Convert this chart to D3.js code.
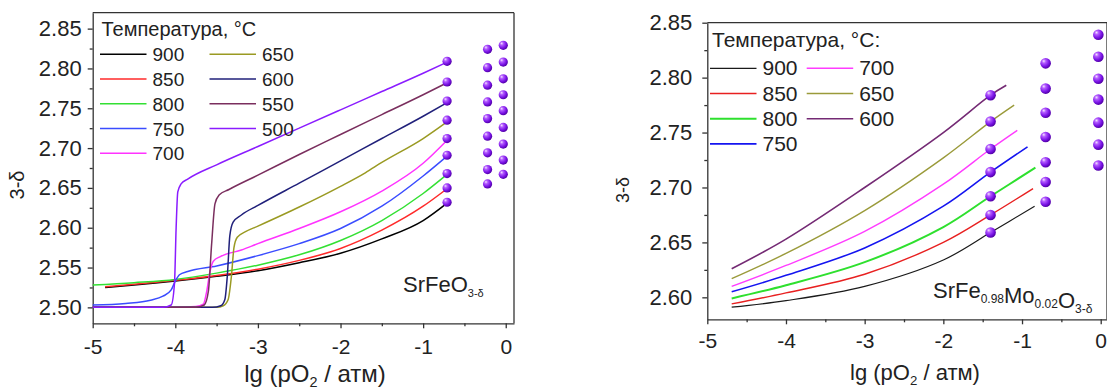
<!DOCTYPE html>
<html>
<head>
<meta charset="utf-8">
<script src="https://cdn.jsdelivr.net/npm/d3@7"></script>
<style>
  body { margin: 0; background: #fff; }
  svg { display: block; font-family: Arial, "Liberation Sans", sans-serif; }
  .axis path, .axis line { stroke: #333; stroke-width: 1.3; }
  .axis text { fill: #222; }
  .frame { stroke: #333; stroke-width: 1.3; }
</style>
</head>
<body>
<svg id="chart" width="1107" height="389"></svg>
<script>
// ---- left panel: SrFeO3-d ----
const sfoTemps = [900, 850, 800, 750, 700, 650, 600, 550, 500];
const sfoColors = ['#000000', '#ff2a2a', '#33e033', '#3a4cff', '#ff33ff', '#9a9a22', '#20207a', '#7a2e5e', '#8a1cff'];

const sfo900 = [[-4.85, 2.525], [-4.5, 2.528], [-4, 2.533], [-3.5, 2.539], [-3, 2.546], [-2.5, 2.556], [-2, 2.568], [-1.5, 2.586], [-1, 2.609], [-0.71, 2.631]];
const sfo850 = [[-4.85, 2.526], [-4.5, 2.529], [-4, 2.534], [-3.5, 2.540], [-3, 2.548], [-2.5, 2.559], [-2, 2.574], [-1.5, 2.597], [-1, 2.627], [-0.71, 2.649]];
const sfo800 = [[-5, 2.528], [-4.5, 2.531], [-4, 2.535], [-3.5, 2.543], [-3, 2.553], [-2.5, 2.566], [-2, 2.584], [-1.5, 2.609], [-1, 2.643], [-0.71, 2.667]];
const sfo750 = [[-5, 2.503], [-4.6, 2.505], [-4.3, 2.509], [-4.15, 2.514], [-4.05, 2.522], [-4.0, 2.533], [-3.95, 2.541], [-3.85, 2.545], [-3.5, 2.552], [-3, 2.565], [-2.5, 2.580], [-2, 2.599], [-1.5, 2.627], [-1, 2.665], [-0.71, 2.690]];
const sfo700 = [[-5, 2.500], [-4, 2.500], [-3.75, 2.501], [-3.66, 2.504], [-3.62, 2.52], [-3.58, 2.545], [-3.54, 2.558], [-3.45, 2.564], [-3.2, 2.572], [-3, 2.580], [-2.5, 2.599], [-2, 2.620], [-1.5, 2.646], [-1, 2.681], [-0.71, 2.710]];
const sfo650 = [[-5, 2.500], [-3.5, 2.500], [-3.42, 2.502], [-3.36, 2.51], [-3.32, 2.54], [-3.29, 2.575], [-3.25, 2.588], [-3.15, 2.595], [-3, 2.602], [-2.5, 2.626], [-2, 2.652], [-1.7, 2.669], [-1.5, 2.682], [-1, 2.712], [-0.71, 2.733]];
const sfo600 = [[-5, 2.500], [-3.55, 2.500], [-3.45, 2.502], [-3.4, 2.51], [-3.37, 2.54], [-3.34, 2.59], [-3.3, 2.607], [-3.2, 2.616], [-3, 2.628], [-2.5, 2.656], [-2, 2.684], [-1.5, 2.712], [-1, 2.740], [-0.71, 2.757]];
const sfo550 = [[-5, 2.500], [-3.75, 2.500], [-3.65, 2.503], [-3.6, 2.52], [-3.56, 2.58], [-3.52, 2.630], [-3.47, 2.641], [-3.35, 2.648], [-3, 2.666], [-2.5, 2.692], [-2, 2.717], [-1.5, 2.742], [-1, 2.767], [-0.71, 2.782]];
const sfo500 = [[-5, 2.500], [-4.15, 2.500], [-4.05, 2.503], [-4.01, 2.53], [-3.99, 2.60], [-3.97, 2.645], [-3.93, 2.655], [-3.85, 2.661], [-3.5, 2.679], [-3, 2.702], [-2.5, 2.725], [-2, 2.748], [-1.5, 2.771], [-1, 2.794], [-0.71, 2.808]];

// sphere markers (columns of points)
const sfoMarkX = [-0.71, -0.22, -0.03];
const sfoMark1 = [2.809, 2.783, 2.759, 2.735, 2.712, 2.691, 2.668, 2.650, 2.632];
const sfoMark2 = [2.824, 2.801, 2.779, 2.758, 2.737, 2.715, 2.694, 2.673, 2.655];
const sfoMark3 = [2.829, 2.808, 2.787, 2.767, 2.747, 2.726, 2.705, 2.685, 2.667];

const sfoXTicks = [-5, -4, -3, -2, -1, 0];
const sfoYTicks = [2.50, 2.55, 2.60, 2.65, 2.70, 2.75, 2.80, 2.85];

// ---- right panel: SrFe0.98Mo0.02O3-d ----
const sfmTemps = [900, 850, 800, 750, 700, 650, 600];
const sfmColors = ['#1a1a1a', '#e82020', '#2ee02e', '#1414f0', '#ff3cff', '#9a9a3a', '#742a74'];

const sfm900 = [[-4.69, 2.591], [-4, 2.597], [-3, 2.610], [-2, 2.634], [-1.4, 2.659], [-0.84, 2.683]];
const sfm850 = [[-4.69, 2.594], [-4, 2.604], [-3, 2.621], [-2, 2.650], [-1.4, 2.675], [-0.86, 2.699]];
const sfm800 = [[-4.69, 2.599], [-4, 2.611], [-3, 2.632], [-2, 2.664], [-1.4, 2.692], [-0.83, 2.718]];
const sfm750 = [[-4.69, 2.605], [-4, 2.620], [-3, 2.645], [-2, 2.683], [-1.4, 2.714], [-0.93, 2.737]];
const sfm700 = [[-4.69, 2.610], [-4, 2.629], [-3, 2.660], [-2, 2.703], [-1.4, 2.735], [-1.06, 2.752]];
const sfm650 = [[-4.69, 2.617], [-4, 2.640], [-3, 2.679], [-2, 2.727], [-1.4, 2.760], [-1.10, 2.775]];
const sfm600 = [[-4.69, 2.626], [-4, 2.653], [-3, 2.700], [-2, 2.750], [-1.4, 2.784], [-1.20, 2.793]];

const sfmMarkX = [-1.4, -0.7, -0.03];
const sfmMark1 = [2.784, 2.760, 2.735, 2.714, 2.692, 2.675, 2.659];
const sfmMark2 = [2.813, 2.790, 2.768, 2.746, 2.723, 2.705, 2.687];
const sfmMark3 = [2.839, 2.819, 2.799, 2.780, 2.759, 2.739, 2.720];

const sfmXTicks = [-5, -4, -3, -2, -1, 0];
const sfmYTicks = [2.60, 2.65, 2.70, 2.75, 2.80, 2.85];

const svg = d3.select('#chart');

// shaded ball for the markers
const grad = svg.append('defs').append('radialGradient')
  .attr('id', 'ball').attr('cx', '38%').attr('cy', '35%').attr('r', '65%')
  .attr('fx', '32%').attr('fy', '28%');
grad.append('stop').attr('offset', '0%').attr('stop-color', '#f4e6ff');
grad.append('stop').attr('offset', '28%').attr('stop-color', '#b45cff');
grad.append('stop').attr('offset', '70%').attr('stop-color', '#7a14e6');
grad.append('stop').attr('offset', '100%').attr('stop-color', '#5200a8');

function drawPanel(p) {
  const x = d3.scaleLinear().domain(p.xDomain).range(p.xRange);
  const y = d3.scaleLinear().domain(p.yDomain).range(p.yRange);
  const g = svg.append('g');

  // frame (top + right)
  g.append('line').attr('class', 'frame')
    .attr('x1', p.xRange[0]).attr('x2', p.xRange[1])
    .attr('y1', p.yRange[1]).attr('y2', p.yRange[1]);
  g.append('line').attr('class', 'frame')
    .attr('x1', p.xRange[1]).attr('x2', p.xRange[1])
    .attr('y1', p.yRange[1]).attr('y2', p.yRange[0]);

  // x axis + minor ticks
  const minorX = d3.range(p.xDomain[0] + 0.5, p.xDomain[1], 1);
  g.append('g').attr('class', 'axis')
    .attr('transform', `translate(0,${p.yRange[0]})`)
    .call(d3.axisBottom(x).tickValues(minorX).tickSize(3).tickSizeOuter(0).tickFormat(''))
    .call(a => a.select('.domain').remove());
  g.append('g').attr('class', 'axis')
    .attr('transform', `translate(0,${p.yRange[0]})`)
    .call(d3.axisBottom(x).tickValues(p.xTicks).tickSize(5).tickSizeOuter(0)
      .tickPadding(p.xPad).tickFormat(d => String(d)))
    .selectAll('text').style('font-size', p.xFont + 'px');

  // y axis + minor ticks
  const minorY = p.yTicks.map(v => v + 0.025).filter(v => v < p.yDomain[1]);
  if (p.yTicks[0] - 0.025 > p.yDomain[0]) minorY.push(p.yTicks[0] - 0.025);
  g.append('g').attr('class', 'axis')
    .attr('transform', `translate(${p.xRange[0]},0)`)
    .call(d3.axisLeft(y).tickValues(minorY).tickSize(3).tickSizeOuter(0).tickFormat(''))
    .call(a => a.select('.domain').remove());
  g.append('g').attr('class', 'axis')
    .attr('transform', `translate(${p.xRange[0]},0)`)
    .call(d3.axisLeft(y).tickValues(p.yTicks).tickSize(5).tickSizeOuter(0)
      .tickPadding(p.yPad).tickFormat(d => d.toFixed(2)))
    .selectAll('text').style('font-size', p.yFont + 'px');

  // axis titles
  const xt = g.append('text').attr('x', p.xTitle[0]).attr('y', p.xTitle[1])
    .attr('text-anchor', 'middle').style('font-size', p.xTitleFont + 'px').attr('fill', '#222');
  xt.append('tspan').text('lg (pO');
  xt.append('tspan').attr('dy', 5).style('font-size', (p.xTitleFont * 0.6) + 'px').text('2');
  xt.append('tspan').attr('dy', -5).text(' / атм)');

  g.append('text')
    .attr('transform', `translate(${p.yTitle[0]},${p.yTitle[1]}) rotate(-90)`)
    .attr('text-anchor', 'middle').style('font-size', p.yTitleFont + 'px').attr('fill', '#222')
    .text('3-δ');

  // curves
  const line = d3.line().x(d => x(d[0])).y(d => y(d[1])).curve(p.curve);
  g.append('g').selectAll('path').data(p.series).join('path')
    .attr('d', d => line(d))
    .attr('fill', 'none')
    .attr('stroke', (d, i) => p.colors[i])
    .attr('stroke-width', (d, i) => p.widths ? p.widths[i] : 1.5);

  // spheres
  const pts = [];
  p.marks.forEach((col, j) => col.forEach(v => pts.push([p.markX[j], v])));
  g.append('g').selectAll('circle').data(pts).join('circle')
    .attr('cx', d => x(d[0])).attr('cy', d => y(d[1]))
    .attr('r', p.markR).attr('fill', 'url(#ball)');

  // legend
  const lg = g.append('g');
  lg.append('text').attr('x', p.legend.x).attr('y', p.legend.titleY)
    .style('font-size', p.legend.titleFont + 'px').attr('fill', '#222')
    .text(p.legend.title);
  p.temps.forEach((t, i) => {
    const col = Math.floor(i / p.legend.rows) < p.legend.colX.length ? Math.floor(i / p.legend.rows) : 0;
    const row = i - col * p.legend.rows;
    const lx = p.legend.colX[col];
    const ly = p.legend.y0 + row * p.legend.rowH;
    lg.append('line').attr('x1', lx).attr('x2', lx + p.legend.lineW)
      .attr('y1', ly).attr('y2', ly)
      .attr('stroke', p.colors[i]).attr('stroke-width', p.widths ? p.widths[i] : 1.5);
    lg.append('text').attr('x', lx + p.legend.lineW + 6).attr('y', ly + 7)
      .style('font-size', p.legend.font + 'px').attr('fill', '#222').text(t);
  });

  // compound label
  const lab = g.append('text').attr('x', p.label.x).attr('y', p.label.y)
    .style('font-size', p.label.font + 'px').attr('fill', '#222');
  p.label.parts.forEach(([txt, sub]) => {
    lab.append('tspan')
      .attr('dy', sub ? 5 : 0)
      .style('font-size', sub ? p.label.subFont + 'px' : null)
      .text(txt);
    if (sub) lab.append('tspan').attr('dy', -5).text('');
  });
}

drawPanel({
  xDomain: [-5, 0.1], xRange: [92.7, 514],
  yDomain: [2.48, 2.87], yRange: [323.3, 12.7],
  xTicks: sfoXTicks, yTicks: sfoYTicks,
  xPad: 11, yPad: 6, xFont: 21, yFont: 22,
  xTitle: [315, 382], xTitleFont: 24,
  yTitle: [24, 185], yTitleFont: 20,
  curve: d3.curveMonotoneX,
  series: [sfo900, sfo850, sfo800, sfo750, sfo700, sfo650, sfo600, sfo550, sfo500],
  colors: sfoColors, temps: sfoTemps,
  markX: sfoMarkX, marks: [sfoMark1, sfoMark2, sfoMark3], markR: 4.6,
  legend: {
    title: 'Температура, °C', x: 101.5, titleY: 36, titleFont: 20,
    colX: [100, 209.5, 313.5], rows: 5, y0: 54.3, rowH: 24.75, lineW: 46.5, font: 19
  },
  label: { x: 403, y: 292, font: 22, subFont: 11, parts: [['SrFeO', false], ['3-δ', true]] }
});

// right legend uses 4 rows in the first column, 3 in the second
drawPanel({
  xDomain: [-5, 0.08], xRange: [707.3, 1107],
  yDomain: [2.58, 2.85], yRange: [319.3, 22.7],
  xTicks: sfmXTicks, yTicks: sfmYTicks,
  xPad: 9, yPad: 10, xFont: 21, yFont: 22,
  xTitle: [915, 380], xTitleFont: 22,
  yTitle: [629, 190], yTitleFont: 18,
  curve: d3.curveCatmullRom.alpha(0.5),
  series: [sfm900, sfm850, sfm800, sfm750, sfm700, sfm650, sfm600],
  colors: sfmColors, temps: sfmTemps,
  widths: [1.2, 1.4, 2, 1.6, 1.4, 1.4, 1.6],
  markX: sfmMarkX, marks: [sfmMark1, sfmMark2, sfmMark3], markR: 5.3,
  legend: {
    title: 'Температура, °C:', x: 712, titleY: 47, titleFont: 21,
    colX: [710, 806.7], rows: 4, y0: 68.3, rowH: 25.2, lineW: 46.5, font: 21
  },
  label: { x: 933, y: 298, font: 22, subFont: 12,
    parts: [['SrFe', false], ['0.98', true], ['Mo', false], ['0.02', true], ['O', false], ['3-δ', true]] }
});
</script>
</body>
</html>
